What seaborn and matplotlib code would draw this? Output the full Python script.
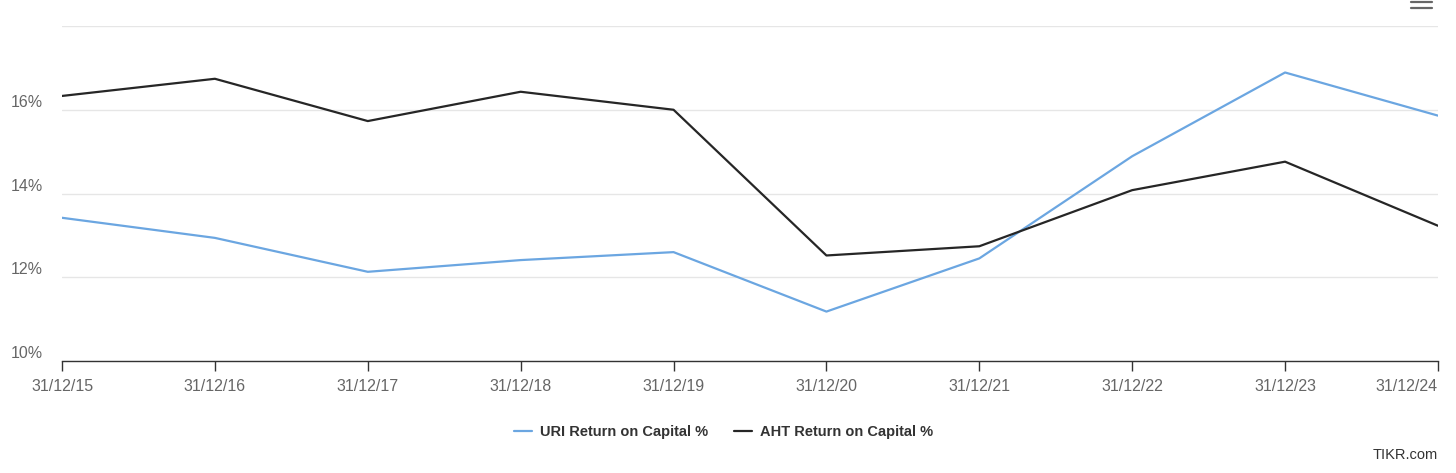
import pandas as pd
import numpy as np
import matplotlib.pyplot as plt
import seaborn as sns

sns.set_theme(style="white")
plt.rcParams['font.family'] = ['Liberation Sans', 'DejaVu Sans']

# 数据
dates = ['31/12/15', '31/12/16', '31/12/17', '31/12/18', '31/12/19',
         '31/12/20', '31/12/21', '31/12/22', '31/12/23', '31/12/24']
uri_roc = [13.42, 12.94, 12.13, 12.41, 12.60, 11.18, 12.45, 14.89, 16.89, 15.86]
aht_roc = [16.33, 16.74, 15.73, 16.43, 16.00, 12.52, 12.74, 14.08, 14.76, 13.23]
series_names = ['URI Return on Capital %', 'AHT Return on Capital %']
y_ticks = [10, 12, 14, 16, 18]

df = pd.DataFrame({
    'pos': list(range(len(dates))) * 2,
    'value': uri_roc + aht_roc,
    'series': [series_names[0]] * len(dates) + [series_names[1]] * len(dates),
})

fig = plt.figure(figsize=(14.56, 4.73), dpi=100)
ax = fig.add_axes([0.0426, 0.2368, 0.945, 0.7082])

sns.lineplot(data=df, x='pos', y='value', hue='series',
             palette=['#6ba6e1', '#262626'], linewidth=1.6, ax=ax, legend=False)

ax.set_xlim(0, len(dates) - 1)
ax.set_ylim(10, 18)
ax.set_xticks(range(len(dates)))
ax.set_xticklabels(dates)
ax.set_yticks(y_ticks)
ax.set_yticklabels([f'{t}%' if t < 18 else '' for t in y_ticks])
ax.set_xlabel('')
ax.set_ylabel('')

ax.grid(axis='y', color='#e6e6e6', linewidth=1)
ax.set_axisbelow(True)
for s in ['top', 'right', 'left']:
    ax.spines[s].set_visible(False)
ax.spines['bottom'].set_color('#333333')
ax.spines['bottom'].set_linewidth(1)
ax.tick_params(axis='x', bottom=True, direction='out', length=7, width=1, color='#333333',
               labelcolor='#666666', labelsize=11.5, pad=6)
ax.tick_params(axis='y', left=False, length=0, labelcolor='#666666', labelsize=11.5, pad=14)
# 最后一个标签右对齐
ax.get_xticklabels()[-1].set_ha('right')
# y轴标签略高于网格线
for lab in ax.get_yticklabels():
    lab.set_va('bottom')

# 图例
handles = [plt.Line2D([], [], color=c, linewidth=1.6) for c in ['#6ba6e1', '#262626']]
fig.legend(handles, series_names, loc='center', bbox_to_anchor=(0.497, 0.087),
           ncol=2, frameon=False, handlelength=1.2, handletextpad=0.55,
           columnspacing=1.8, prop={'weight': 'bold', 'size': 10.5},
           labelcolor='#333333')

fig.text(0.9876, 0.038, 'TIKR.com', ha='right', va='center', fontsize=10.5, color='#333333')

# 右上角菜单图标（被裁切）
W, H = 1456, 473
for yy in [2, 8]:
    fig.add_artist(plt.Line2D([1411 / W, 1432 / W], [1 - yy / H, 1 - yy / H],
                              color='#666666', linewidth=1.6,
                              transform=fig.transFigure))

plt.savefig('out.png', dpi=100)
